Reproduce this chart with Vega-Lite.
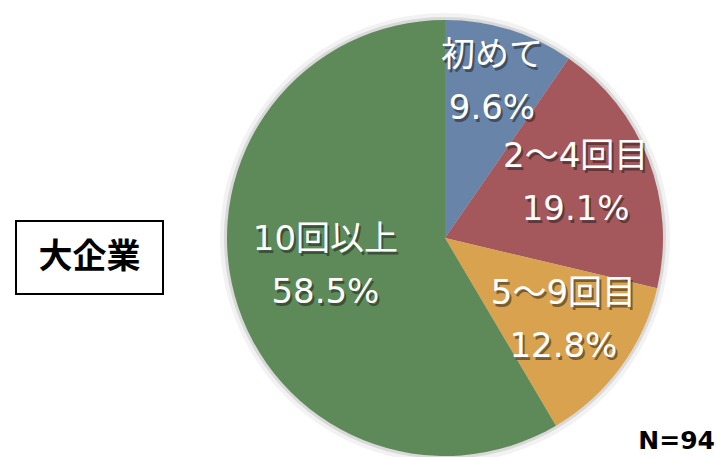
{
  "$schema": "https://vega.github.io/schema/vega-lite/v6.json",
  "padding": {"left": 15, "top": 13, "right": 0, "bottom": 0},
  "background": "white",
  "config": {"view": {"stroke": null}, "font": "Noto Sans CJK JP"},
  "spacing": 8,
  "hconcat": [
    {
      "spacing": 20,
      "vconcat": [
        {
          "width": 147,
          "height": 180,
          "data": {"values": [{"t": ""}]},
          "mark": {"type": "text"},
          "encoding": {"text": {"field": "t"}}
        },
        {
          "width": 147,
          "height": 73,
          "view": {"stroke": "black", "strokeWidth": 2},
          "data": {"values": [{"name": "大企業"}]},
          "mark": {"type": "text", "fontSize": 34, "fontWeight": "bold", "color": "black", "font": "Noto Sans CJK JP"},
          "encoding": {"text": {"field": "name"}}
        }
      ]
    },
    {
      "width": 546,
      "height": 436,
      "title": {"text": "N=94", "orient": "bottom", "anchor": "end", "offset": -34, "dx": -3, "fontSize": 25, "fontWeight": "bold", "color": "black", "font": "DejaVu Sans"},
      "data": {"values": [
        {"category": "初めて", "value": 9.6, "rank": 1},
        {"category": "2〜4回目", "value": 19.1, "rank": 2},
        {"category": "5〜9回目", "value": 12.8, "rank": 3},
        {"category": "10回以上", "value": 58.5, "rank": 4}
      ]},
      "transform": [
        {"stack": "value", "groupby": [], "sort": [{"field": "rank", "order": "ascending"}], "as": ["v0", "v1"]},
        {"calculate": "(datum.v0 + datum.v1) / 2", "as": "mid"},
        {"calculate": "datum.category + '\\n' + format(datum.value, '.1f') + '%'", "as": "label"}
      ],
      "layer": [
        {
          "mark": {"type": "arc", "outerRadius": 225, "fill": "#000000", "opacity": 0.05},
          "encoding": {
            "theta": {"field": "v0", "type": "quantitative", "scale": {"domain": [0, 100]}},
            "theta2": {"field": "v1"}
          }
        },
        {
          "mark": {"type": "arc", "outerRadius": 221, "fill": "#000000", "opacity": 0.1},
          "encoding": {
            "theta": {"field": "v0", "type": "quantitative", "scale": {"domain": [0, 100]}},
            "theta2": {"field": "v1"}
          }
        },
        {
          "mark": {"type": "arc", "outerRadius": 218},
          "encoding": {
            "theta": {"field": "v0", "type": "quantitative", "scale": {"domain": [0, 100]}},
            "theta2": {"field": "v1"},
            "color": {"field": "category", "type": "nominal", "legend": null,
              "scale": {"domain": ["初めて", "2〜4回目", "5〜9回目", "10回以上"], "range": ["#6884a8", "#a5585b", "#d9a24e", "#5d8a58"]}}
          }
        },
        {"transform": [{"filter": "datum.category === '初めて'"}],
          "mark": {"type": "text", "radius": 158, "dx": 2, "dy": -28, "fill": "#1a1a1a", "opacity": 0.5, "fontSize": 34, "lineBreak": "\n", "lineHeight": 53, "font": "DejaVu Sans, Noto Sans CJK JP"},
          "encoding": {"theta": {"field": "mid", "type": "quantitative"}, "text": {"field": "label"}}},
        {"transform": [{"filter": "datum.category === '初めて'"}],
          "mark": {"type": "text", "radius": 158, "dy": -31, "fill": "white", "fontSize": 34, "lineBreak": "\n", "lineHeight": 53, "font": "DejaVu Sans, Noto Sans CJK JP"},
          "encoding": {"theta": {"field": "mid", "type": "quantitative"}, "text": {"field": "label"}}},
        {"transform": [{"filter": "datum.category === '2〜4回目'"}],
          "mark": {"type": "text", "radius": 140, "dx": 2, "dy": -28, "fill": "#1a1a1a", "opacity": 0.5, "fontSize": 34, "lineBreak": "\n", "lineHeight": 53, "font": "DejaVu Sans, Noto Sans CJK JP"},
          "encoding": {"theta": {"field": "mid", "type": "quantitative"}, "text": {"field": "label"}}},
        {"transform": [{"filter": "datum.category === '2〜4回目'"}],
          "mark": {"type": "text", "radius": 140, "dy": -31, "fill": "white", "fontSize": 34, "lineBreak": "\n", "lineHeight": 53, "font": "DejaVu Sans, Noto Sans CJK JP"},
          "encoding": {"theta": {"field": "mid", "type": "quantitative"}, "text": {"field": "label"}}},
        {"transform": [{"filter": "datum.category === '5〜9回目'"}],
          "mark": {"type": "text", "radius": 147, "dx": 2, "dy": -28, "fill": "#1a1a1a", "opacity": 0.5, "fontSize": 34, "lineBreak": "\n", "lineHeight": 53, "font": "DejaVu Sans, Noto Sans CJK JP"},
          "encoding": {"theta": {"field": "mid", "type": "quantitative"}, "text": {"field": "label"}}},
        {"transform": [{"filter": "datum.category === '5〜9回目'"}],
          "mark": {"type": "text", "radius": 147, "dy": -31, "fill": "white", "fontSize": 34, "lineBreak": "\n", "lineHeight": 53, "font": "DejaVu Sans, Noto Sans CJK JP"},
          "encoding": {"theta": {"field": "mid", "type": "quantitative"}, "text": {"field": "label"}}},
        {"transform": [{"filter": "datum.category === '10回以上'"}],
          "mark": {"type": "text", "radius": 124, "dx": 2, "dy": -28, "fill": "#1a1a1a", "opacity": 0.5, "fontSize": 34, "lineBreak": "\n", "lineHeight": 53, "font": "DejaVu Sans, Noto Sans CJK JP"},
          "encoding": {"theta": {"field": "mid", "type": "quantitative"}, "text": {"field": "label"}}},
        {"transform": [{"filter": "datum.category === '10回以上'"}],
          "mark": {"type": "text", "radius": 124, "dy": -31, "fill": "white", "fontSize": 34, "lineBreak": "\n", "lineHeight": 53, "font": "DejaVu Sans, Noto Sans CJK JP"},
          "encoding": {"theta": {"field": "mid", "type": "quantitative"}, "text": {"field": "label"}}}
      ]
    }
  ]
}
